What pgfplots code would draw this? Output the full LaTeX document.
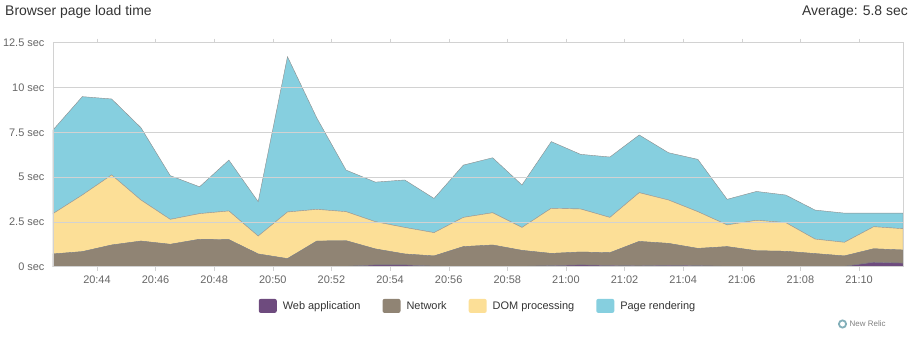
\documentclass[border=0pt]{standalone}
\usepackage{pgfplots}
\usepackage{pgfplotstable}
\pgfplotsset{compat=1.18}
\usepackage{fontspec}
\setmainfont{Liberation Sans}
\definecolor{webc}{HTML}{6E4B7E}
\definecolor{netc}{HTML}{908474}
\definecolor{domc}{HTML}{FCDF97}
\definecolor{pagec}{HTML}{86CFDF}
\definecolor{gridc}{HTML}{D2D2D2}
\definecolor{tickc}{HTML}{666666}
\definecolor{titlec}{HTML}{333333}
\pgfplotstableread{
t    web  net  dom  page
42.5 0.02 0.69 2.25 4.67
43.5 0.02 0.82 3.16 5.49
44.5 0.02 1.19 3.91 4.24
45.5 0.02 1.41 2.29 4.04
46.5 0.02 1.23 1.39 2.44
47.5 0.02 1.51 1.43 1.50
48.5 0.02 1.49 1.60 2.84
49.5 0.02 0.69 1.00 1.92
50.5 0.02 0.43 2.60 8.67
51.5 0.02 1.41 1.77 5.10
52.5 0.02 1.43 1.62 2.32
53.5 0.10 0.89 1.52 2.21
54.5 0.10 0.61 1.48 2.65
55.5 0.03 0.57 1.30 1.91
56.5 0.02 1.10 1.63 2.92
57.5 0.02 1.19 1.80 3.07
58.5 0.02 0.89 1.28 2.37
59.5 0.06 0.68 2.52 3.72
60.5 0.10 0.72 2.40 3.05
61.5 0.07 0.71 1.97 3.37
62.5 0.05 1.36 2.72 3.22
63.5 0.08 1.22 2.42 2.64
64.5 0.06 0.96 2.05 2.92
65.5 0.02 1.10 1.21 1.43
66.5 0.02 0.87 1.70 1.61
67.5 0.02 0.84 1.60 1.54
68.5 0.02 0.71 0.81 1.62
69.5 0.02 0.58 0.76 1.63
70.5 0.25 0.75 1.23 0.76
71.5 0.20 0.73 1.19 0.87
}\loadtable
\begin{document}
\begin{tikzpicture}
\useasboundingbox (0,0) rectangle (914bp,340bp);
\begin{axis}[
  at={(53bp,73.3bp)}, anchor=south west,
  scale only axis, width=850bp, height=224bp,
  xmin=42.5, xmax=71.5, ymin=0, ymax=12.5,
  stack plots=y, area style,
  xtick={44,46,...,70},
  xticklabels={20:44,20:46,20:48,20:50,20:52,20:54,20:56,20:58,21:00,21:02,21:04,21:06,21:08,21:10},
  ytick={0,2.5,5,7.5,10,12.5},
  yticklabels={0 sec,2.5 sec,5 sec,7.5 sec,10 sec,12.5 sec},
  ymajorgrids, grid style={draw=gridc, line width=0.6bp},
  axis line style={draw=gridc, line width=0.8bp},
  tick label style={font=\fontsize{11}{13}\selectfont, text=tickc},
  ytick style={draw=none},
  xtick style={draw=gridc},
  tick align=outside, major tick length=4bp,
  xticklabel style={yshift=-2bp},
  yticklabel style={xshift=-1bp},
  legend columns=4,
  legend style={at={(0.5,-0.175)}, anchor=center, draw=none, fill=none,
    font=\fontsize{11}{13}\selectfont, text=titlec,
    /tikz/every odd column/.append style={column sep=4bp},
    /tikz/every even column/.append style={column sep=20bp}},
  legend image code/.code={\path[#1, draw=none, rounded corners=2bp] (0bp,-7bp) rectangle (18bp,7bp);},
]
\addplot[fill=webc, draw=black!50, line width=0.4bp] table[x=t,y=web]{\loadtable} \closedcycle;
\addplot[fill=netc, draw=black!50, line width=0.4bp] table[x=t,y=net]{\loadtable} \closedcycle;
\addplot[fill=domc, draw=black!40, line width=0.4bp] table[x=t,y=dom]{\loadtable} \closedcycle;
\addplot[fill=pagec, draw=black!45, line width=0.4bp] table[x=t,y=page]{\loadtable} \closedcycle;
\legend{Web application, Network, DOM processing, Page rendering}
\end{axis}
\node[anchor=base west, font=\fontsize{14}{16}\selectfont, text=titlec, inner sep=0] at (5bp,324bp) {Browser page load time};
\node[anchor=base east, font=\fontsize{14}{16}\selectfont, text=titlec, inner sep=0] at (908bp,324bp) {Average: 5.8 sec};
\draw[color=pagec!60!gray, line width=1.8bp] (842.5bp,16bp) circle (3.6bp);
\node[anchor=west, font=\fontsize{8}{9}\selectfont, text=gray, inner sep=0] at (849.5bp,16bp) {New Relic};
\end{tikzpicture}
\end{document}
